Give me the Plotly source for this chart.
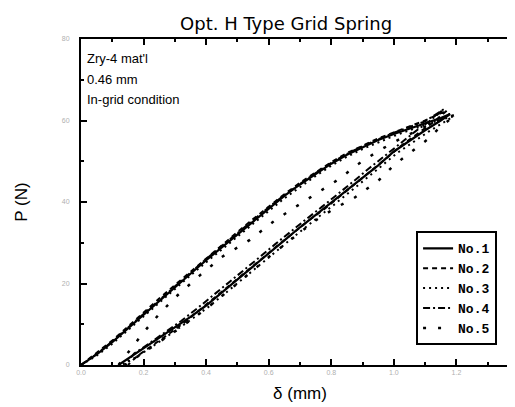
import plotly.graph_objects as go

# ---- data ----
TITLE = "Opt. H Type Grid Spring"
NOTE_LINES = ["Zry-4 mat'l", "0.46 mm", "In-grid condition"]
X_TICKS = [0.0, 0.2, 0.4, 0.6, 0.8, 1.0, 1.2, 1.4]
Y_TICKS = [0, 20, 40, 60, 80]
SERIES_NAMES = ["No.1", "No.2", "No.3", "No.4", "No.5"]

# No.1 (solid)
no1_x = [0, .05, .1, .15, .2, .25, .3, .35, .4, .45, .5, .55, .6, .65, .7, .75, .8, .85, .9, .95, 1.0, 1.05, 1.1, 1.15, 1.18,
         1.15, 1.1, 1.05, 1.0, .95, .9, .85, .8, .75, .7, .65, .6, .55, .5, .45, .4, .35, .3, .25, .2, .15, .12]
no1_y = [0, 2.6, 5.6, 9.0, 12.4, 15.8, 19.1, 22.4, 25.7, 28.9, 32.0, 35.2, 38.4, 41.5, 44.3, 46.9, 49.4, 51.6, 53.5, 55.2, 56.7, 58.0, 59.3, 60.6, 61.6,
         60.0, 57.6, 55.0, 52.4, 49.0, 46.0, 42.8, 39.8, 36.8, 33.8, 30.6, 27.4, 24.2, 21.0, 17.8, 14.6, 11.8, 9.2, 6.6, 4.0, 1.5, 0]

# No.2 (dashed)
no2_x = [0, .05, .1, .15, .2, .25, .3, .35, .4, .45, .5, .55, .6, .65, .7, .75, .8, .85, .9, .95, 1.0, 1.05, 1.1, 1.17,
         1.13, 1.08, 1.03, .98, .93, .88, .83, .78, .73, .68, .63, .58, .53, .48, .43, .38, .33, .28, .23, .18, .15]
no2_y = [0, 2.9, 6.0, 9.4, 12.9, 16.3, 19.6, 22.9, 26.2, 29.4, 32.6, 35.8, 38.9, 41.9, 44.7, 47.3, 49.8, 52.0, 53.9, 55.6, 57.1, 58.5, 60.0, 62.5,
         59.8, 57.0, 54.2, 51.0, 47.8, 44.6, 41.6, 38.4, 35.6, 32.6, 29.4, 26.2, 23.0, 19.8, 16.6, 13.4, 10.4, 7.6, 5.0, 2.2, 0]

# No.3 (dotted)
no3_x = [0, .05, .1, .15, .2, .25, .3, .35, .4, .45, .5, .55, .6, .65, .7, .75, .8, .85, .9, .95, 1.0, 1.05, 1.1, 1.15, 1.19,
         1.16, 1.11, 1.06, 1.01, .96, .91, .86, .81, .76, .71, .66, .61, .56, .51, .46, .41, .36, .31, .26, .21, .16, .13]
no3_y = [0, 2.3, 5.2, 8.6, 12.0, 15.4, 18.7, 22.0, 25.2, 28.4, 31.5, 34.7, 37.8, 40.9, 43.7, 46.4, 48.9, 51.1, 53.0, 54.7, 56.2, 57.6, 58.9, 60.2, 61.0,
         59.6, 57.2, 54.6, 52.0, 48.8, 45.6, 42.4, 39.4, 36.4, 33.4, 30.2, 27.0, 23.8, 20.6, 17.4, 14.4, 11.6, 8.8, 6.2, 3.6, 1.2, 0]

# No.4 (dash-dot)
no4_x = [0, .05, .1, .15, .2, .25, .3, .35, .4, .45, .5, .55, .6, .65, .7, .75, .8, .85, .9, .95, 1.0, 1.05, 1.1, 1.16,
         1.12, 1.07, 1.02, .97, .92, .87, .82, .77, .72, .67, .62, .57, .52, .47, .42, .37, .32, .27, .22, .17, .14]
no4_y = [0, 2.7, 5.8, 9.2, 12.6, 16.0, 19.4, 22.7, 26.0, 29.2, 32.4, 35.6, 38.7, 41.7, 44.5, 47.1, 49.6, 51.8, 53.7, 55.4, 57.0, 58.4, 59.8, 62.8,
         60.2, 57.4, 54.4, 51.4, 48.2, 45.0, 41.8, 38.8, 35.8, 32.8, 29.6, 26.4, 23.2, 20.0, 16.8, 13.8, 10.8, 8.0, 5.4, 2.8, 0]

# No.5 (sparse dots, second cycle)
no5_x = [.12, .2, .25, .3, .38, .45, .54, .62, .7, .78, .83, .88, .95, 1.02, 1.1, 1.16, 1.2,
         1.15, 1.105, 1.05, 1.0, .95, .873, .812, .75, .7, .6, .5, .4, .3, .2, .14]
no5_y = [0, 8.0, 12.5, 16.5, 22.0, 26.5, 30.7, 35.5, 39.5, 43.5, 45.9, 49.0, 52.5, 55.5, 58.5, 60.5, 61.5,
         58.5, 55.2, 52.0, 49.0, 45.2, 41.0, 38.5, 35.5, 32.5, 26.5, 20.0, 13.8, 8.2, 3.2, 0]

SERIES_X = [no1_x, no2_x, no3_x, no4_x, no5_x]
SERIES_Y = [no1_y, no2_y, no3_y, no4_y, no5_y]
DASHES = ["solid", "5px,4px", "2px,4px", "7px,3px,2px,3px", "3px,12px"]
WIDTHS = [2.2, 2, 2, 2, 2.5]

fig = go.Figure()
for name, xs, ys, dash, w in zip(SERIES_NAMES, SERIES_X, SERIES_Y, DASHES, WIDTHS):
    fig.add_trace(go.Scatter(
        x=xs, y=ys, mode="lines", name=f"<b>{name}</b>",
        line=dict(color="black", width=w, dash=dash),
    ))

axis_common = dict(
    showline=True, linecolor="black", linewidth=2, mirror="allticks",
    ticks="inside", ticklen=6, tickwidth=1.5, tickcolor="black",
    showgrid=False, zeroline=False,
    tickfont=dict(family="Liberation Sans", size=7, color="#b0b0b0"),
)

fig.update_layout(
    width=515, height=407,
    margin=dict(l=73, r=2, t=31, b=50),
    paper_bgcolor="white", plot_bgcolor="white",
    title=dict(text=TITLE, x=0.54, xanchor="center", y=0.962, yanchor="middle",
               font=dict(family="DejaVu Sans", size=18, color="black")),
    xaxis=dict(range=[0, 1.4], tickvals=X_TICKS, ticktext=[f"{v:.1f}" for v in X_TICKS],
               minor=dict(ticks="inside", ticklen=3, tickcolor="black", dtick=0.1),
               title=dict(text="δ (mm)", standoff=12,
                          font=dict(family="Liberation Sans", size=17, color="black")),
               **axis_common),
    yaxis=dict(range=[0, 80], tickvals=Y_TICKS, ticklabelstandoff=8,
               minor=dict(ticks="inside", ticklen=3, tickcolor="black", dtick=10),
               title=dict(text="P (N)", standoff=30,
                          font=dict(family="Liberation Sans", size=17, color="black")),
               **axis_common),
    legend=dict(x=0.765, y=0.41, xanchor="left", yanchor="top",
                bordercolor="black", borderwidth=2, bgcolor="white",
                font=dict(family="Liberation Mono", size=13, color="black"),
                itemwidth=30, tracegroupgap=0),
    showlegend=True,
)

NOTE_Y = [0.939, 0.876, 0.814]
for line, yy in zip(NOTE_LINES, NOTE_Y):
    fig.add_annotation(text=line, xref="paper", yref="paper",
                       x=0.01, y=yy, xanchor="left", yanchor="middle",
                       showarrow=False,
                       font=dict(family="Liberation Sans", size=13, color="black"))

fig.write_html("out.html")
